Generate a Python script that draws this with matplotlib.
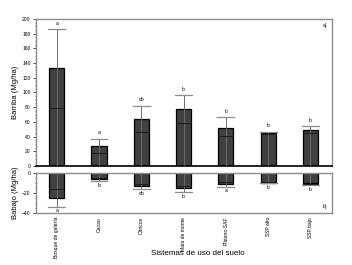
import matplotlib
matplotlib.use("Agg")
from matplotlib import pyplot as plt
from matplotlib.ticker import MultipleLocator

plt.rcParams['font.family'] = ['Liberation Sans', 'DejaVu Sans']

categorias = ["Bosque de galería", "Cacao", "Cítricos", "Mata de monte",
              "Plátano-SAF", "SSP alto", "SSP bajo"]

# biomasa arriba (Mg/ha)
arriba = [133, 27, 64, 78, 52, 44.5, 49]
arriba_linea = [79, 17, 46, 58, 41, 43, 44.5]
arriba_error = [186, 37, 82, 96, 66, 46, 54]
arriba_letras = ["a", "a", "ab", "b", "b", "b", "b"]

# biomasa abajo (Mg/ha)
abajo = [-25.7, -6, -13.7, -15.7, -11.3, -10, -10.7]
abajo_linea = [-16.7, -5, -11, -13.3, -9.3, -9.5, -11.5]
abajo_error = [-34, -8.3, -16.7, -19.3, -14, -10.5, -12.3]
abajo_letras = ["a", "b", "ab", "b", "a", "b", "b"]

gris = "#8c8c8c"
relleno = "#404040"

fig = plt.figure(figsize=(3.52, 2.65), dpi=100)
ax1 = fig.add_axes([0.101, 0.374, 0.841, 0.554])
ax2 = fig.add_axes([0.101, 0.197, 0.841, 0.151])

x = list(range(len(categorias)))
ancho = 0.36
cap = 0.2

def dibujar(ax, vals, linea, err, letras, arriba_lado):
    ax.bar(x, vals, width=ancho, color=relleno, edgecolor="black", linewidth=0.9, zorder=2)
    for i in x:
        ax.plot([i, i], [0, err[i]], color="#6e6e6e", lw=0.7, zorder=3)
        ax.plot([i - cap, i + cap], [err[i], err[i]], color=gris, lw=0.9, zorder=3)
        ax.plot([i - ancho / 2, i + ancho / 2], [linea[i], linea[i]], color="#1a1a1a", lw=0.7, zorder=3)
        if arriba_lado:
            ax.text(i, err[i] + 5, letras[i], ha="center", va="bottom", fontsize=3.6)
        else:
            ax.text(i, err[i] - 1.5, letras[i], ha="center", va="top", fontsize=3.6)

dibujar(ax1, arriba, arriba_linea, arriba_error, arriba_letras, True)
dibujar(ax2, abajo, abajo_linea, abajo_error, abajo_letras, False)

for ax in (ax1, ax2):
    ax.set_xlim(-0.5, 6.5)
    for s in ax.spines.values():
        s.set_color(gris)
        s.set_linewidth(1.0)
    ax.tick_params(axis="y", labelsize=3.6, length=2, width=0.5, pad=1.5)
    ax.tick_params(axis="y", which="minor", length=1, width=0.4)

ax1.set_ylim(0, 200)
ax1.yaxis.set_major_locator(MultipleLocator(20))
ax1.yaxis.set_minor_locator(MultipleLocator(5))
ax1.spines["bottom"].set_color("black")
ax1.spines["bottom"].set_linewidth(1.2)
ax1.set_xticks([])
ax1.set_ylabel("Barriba (Mg/ha)", fontsize=5.5, labelpad=2)
ax1.text(0.985, 0.97, "a)", transform=ax1.transAxes, ha="right", va="top", fontsize=3.6)

ax2.set_ylim(-40, 0)
ax2.yaxis.set_major_locator(MultipleLocator(20))
ax2.yaxis.set_minor_locator(MultipleLocator(5))
ax2.set_xticks(x)
ax2.set_xticklabels(categorias, rotation=90, fontsize=3.6)
ax2.tick_params(axis="x", length=0, pad=3)
ax2.set_ylabel("Babajo (Mg/ha)", fontsize=5.5, labelpad=2)
ax2.text(0.985, 0.1, "b)", transform=ax2.transAxes, ha="right", va="bottom", fontsize=3.6)

fig.text(0.563, 0.045, "Sistemas de uso del suelo", ha="center", va="center", fontsize=5.8)

fig.savefig("out.png", dpi=100)
